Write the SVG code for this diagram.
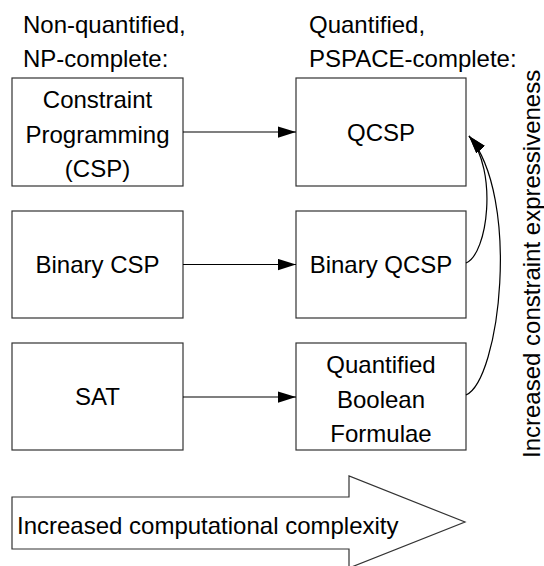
<svg xmlns="http://www.w3.org/2000/svg" width="544" height="566" viewBox="0 0 544 566">
<defs>
<style>
text{font-family:"Liberation Sans",Arial,sans-serif;font-size:24px;fill:#000}
.c{text-anchor:middle}
.box{fill:#fff;stroke:#333;stroke-width:1.2}
.edge{fill:none;stroke:#000;stroke-width:1.2}
</style>
<marker id="ah" markerUnits="userSpaceOnUse" markerWidth="18" markerHeight="12" refX="16" refY="5" orient="auto" viewBox="0 0 16 10">
<path d="M0,0 L16,5 L0,10 z" fill="#000"/>
</marker>
</defs>
<g id="headers">
<text x="23" y="33">Non-quantified,</text>
<text x="23" y="67">NP-complete:</text>
<text x="309" y="33">Quantified,</text>
<text x="309" y="67">PSPACE-complete:</text>
</g>
<g id="csp"><rect class="box" x="12" y="78" width="171" height="108"/>
<text class="c" x="97.5" y="108">Constraint</text><text class="c" x="97.5" y="143">Programming</text><text class="c" x="97.5" y="177">(CSP)</text></g>
<g id="qcsp"><rect class="box" x="296" y="78" width="170" height="108"/>
<text class="c" x="381" y="141">QCSP</text></g>
<g id="bcsp"><rect class="box" x="12" y="211" width="171" height="107"/>
<text class="c" x="97.5" y="273">Binary CSP</text></g>
<g id="bqcsp"><rect class="box" x="296" y="211" width="170" height="107"/>
<text class="c" x="381" y="273">Binary QCSP</text></g>
<g id="sat"><rect class="box" x="12" y="343" width="171" height="107"/>
<text class="c" x="97.5" y="405">SAT</text></g>
<g id="qbf"><rect class="box" x="296" y="343" width="170" height="107"/>
<text class="c" x="381" y="373">Quantified</text><text class="c" x="381" y="408">Boolean</text><text class="c" x="381" y="442">Formulae</text></g>
<g id="connectors">
<line class="edge" x1="183" y1="132" x2="296" y2="132" marker-end="url(#ah)"/>
<line class="edge" x1="183" y1="264.5" x2="296" y2="264.5" marker-end="url(#ah)"/>
<line class="edge" x1="183" y1="397" x2="296" y2="397" marker-end="url(#ah)"/>
<path class="edge" d="M466,263 C488,254 498,170 469,136" marker-end="url(#ah)"/>
<path class="edge" d="M466,395 C500,380 521,197 469,136" marker-end="url(#ah)"/>
</g>
<g id="complexity">
<polygon class="box" points="12,497 349,497 349,476 465,522 349,568 349,549 12,549"/>
<text x="17" y="534">Increased computational complexity</text>
</g>
<g id="expressiveness">
<text transform="translate(540,458) rotate(-90)">Increased constraint expressiveness</text>
</g>
</svg>
